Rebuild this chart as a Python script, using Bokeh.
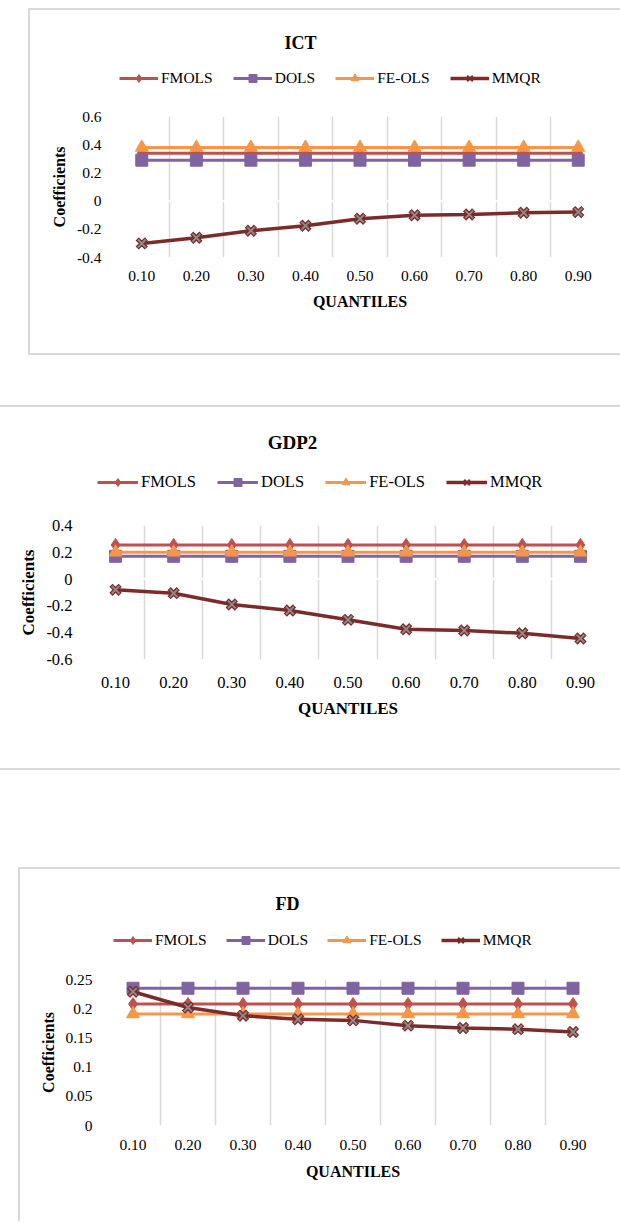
from bokeh.plotting import figure
from bokeh.layouts import column, row
from bokeh.models import (Legend, LegendItem, FixedTicker, NumeralTickFormatter,
                          Span, Range1d, Label, Spacer)
from bokeh.embed import file_html
from bokeh.resources import INLINE

# ---------------- data ----------------
quantiles = [0.10, 0.20, 0.30, 0.40, 0.50, 0.60, 0.70, 0.80, 0.90]
series_names = ["FMOLS", "DOLS", "FE-OLS", "MMQR"]

ict_fmols = [0.34, 0.34, 0.34, 0.34, 0.34, 0.34, 0.34, 0.34, 0.34]
ict_dols = [0.29, 0.29, 0.29, 0.29, 0.29, 0.29, 0.29, 0.29, 0.29]
ict_feols = [0.38, 0.38, 0.38, 0.38, 0.38, 0.38, 0.38, 0.38, 0.38]
ict_mmqr = [-0.30, -0.26, -0.21, -0.175, -0.125, -0.10, -0.095, -0.083, -0.078]
ict_yticks = [-0.4, -0.2, 0, 0.2, 0.4, 0.6]

gdp2_fmols = [0.255, 0.255, 0.255, 0.255, 0.255, 0.255, 0.255, 0.255, 0.255]
gdp2_dols = [0.17, 0.17, 0.17, 0.17, 0.17, 0.17, 0.17, 0.17, 0.17]
gdp2_feols = [0.20, 0.20, 0.20, 0.20, 0.20, 0.20, 0.20, 0.20, 0.20]
gdp2_mmqr = [-0.08, -0.105, -0.19, -0.234, -0.304, -0.374, -0.384, -0.404, -0.443]
gdp2_yticks = [-0.6, -0.4, -0.2, 0, 0.2, 0.4]

fd_fmols = [0.208, 0.208, 0.208, 0.208, 0.208, 0.208, 0.208, 0.208, 0.208]
fd_dols = [0.235, 0.235, 0.235, 0.235, 0.235, 0.235, 0.235, 0.235, 0.235]
fd_feols = [0.191, 0.191, 0.191, 0.191, 0.191, 0.191, 0.191, 0.191, 0.191]
fd_mmqr = [0.229, 0.202, 0.188, 0.182, 0.180, 0.171, 0.167, 0.165, 0.160]
fd_yticks = [0, 0.05, 0.1, 0.15, 0.2, 0.25]

COLORS = {"FMOLS": "#C0504D", "DOLS": "#8064A2", "FE-OLS": "#F79646", "MMQR": "#7B2C2A"}
MARKERS = {"FMOLS": ("diamond", 13), "DOLS": ("square", 12), "FE-OLS": ("triangle", 13)}
FONT = "Liberation Serif"
GRID = "#D9D9D9"
BL, BR = 80, 5  # common left / right borders of every figure


def draw_series(p, data, legend_only=False, **kw):
    """Draw the four series; return legend items."""
    items = []
    for name in series_names[:3]:
        col = COLORS[name]
        marker, size = MARKERS[name]
        l = p.line(quantiles, data[name], line_color=col, line_width=3, **kw)
        s = p.scatter(quantiles, data[name], marker=marker, size=size,
                      fill_color=col, line_color=col, **kw)
        items.append(LegendItem(label=name, renderers=[l, s]))
    col = COLORS["MMQR"]
    l = p.line(quantiles, data["MMQR"], line_color=col, line_width=3.5, **kw)
    if legend_only:
        s1 = p.scatter(quantiles, data["MMQR"], marker="x", size=12, line_color=col,
                       line_width=2, **kw)
    else:
        s1 = p.scatter(quantiles, data["MMQR"], marker="x", size=13, line_color=col,
                       line_width=4.5, **kw)
        p.scatter(quantiles, data["MMQR"], marker="x", size=11, line_color="#8E8E8E",
                  line_width=1.8, **kw)
    items.append(LegendItem(label="MMQR", renderers=[l, s1]))
    return items


def make_header(title, data, c):
    fw = c["w"] - BL - BR
    h = figure(width=c["w"], height=c["hh"], output_backend="svg", toolbar_location=None,
               x_axis_type=None, y_axis_type=None, title_location=None,
               x_range=Range1d(0, fw), y_range=Range1d(0, c["hh"]),
               min_border_left=BL, min_border_right=BR, min_border_top=0, min_border_bottom=0)
    h.outline_line_color = None
    h.background_fill_color = "white"
    h.border_fill_color = "white"
    h.grid.visible = False
    # renderers only used to draw the legend samples (kept out of view)
    h.extra_x_ranges = {"off": Range1d(100, 101)}
    items = draw_series(h, data, legend_only=True, x_range_name="off")
    legend = Legend(items=items, orientation="horizontal", location=c["lloc"],
                    padding=0, margin=0, spacing=c["lspace"],
                    glyph_width=c["gw"], glyph_height=20, label_height=20,
                    label_standoff=3, label_text_font=FONT,
                    label_text_font_size=c["fs"], label_text_color="black",
                    border_line_color=None, background_fill_alpha=0)
    h.add_layout(legend)
    h.add_layout(Label(x=c["tx"], y=c["ty"], text=title, text_font=FONT,
                       text_font_style="bold", text_font_size=c["tfs"],
                       text_color="black", text_align="center", text_baseline="middle"))
    return h


def make_chart(data, yticks, c):
    half = (quantiles[1] - quantiles[0]) / 2
    p = figure(width=c["w"], height=c["hc"], output_backend="svg", toolbar_location=None,
               title_location=None,
               x_range=Range1d(quantiles[0] - half, quantiles[-1] + half),
               y_range=Range1d(yticks[0], yticks[-1]),
               min_border_left=BL, min_border_right=BR,
               min_border_top=c["mt"], min_border_bottom=c["mb"])
    p.background_fill_color = "white"
    p.border_fill_color = "white"
    p.outline_line_color = None

    p.ygrid.grid_line_color = None
    p.xgrid.ticker = FixedTicker(ticks=[q - half for q in quantiles] + [quantiles[-1] + half])
    p.xgrid.grid_line_color = GRID
    p.xgrid.grid_line_width = 1.5
    if yticks[0] < 0:
        p.add_layout(Span(location=0, dimension="width", line_color="white",
                          line_width=2, level="underlay"))

    draw_series(p, data)

    p.xaxis.ticker = FixedTicker(ticks=quantiles)
    p.xaxis.formatter = NumeralTickFormatter(format="0.00")
    p.yaxis.ticker = FixedTicker(ticks=yticks)
    p.yaxis.formatter = NumeralTickFormatter(format="0.[00]")
    p.xaxis.axis_label = "QUANTILES"
    p.yaxis.axis_label = "Coefficients"
    for ax in (p.xaxis, p.yaxis):
        ax.axis_line_color = None
        ax.major_tick_line_color = None
        ax.minor_tick_line_color = None
        ax.major_tick_out = 0
        ax.major_tick_in = 0
        ax.major_label_text_font = FONT
        ax.major_label_text_font_size = c["fs"]
        ax.major_label_text_color = "black"
        ax.axis_label_text_font = FONT
        ax.axis_label_text_font_style = "bold"
        ax.axis_label_text_font_size = c["afs"]
        ax.axis_label_text_color = "black"
    p.xaxis.major_label_standoff = c["xts"]
    p.xaxis.axis_label_standoff = c["xls"]
    p.yaxis.major_label_standoff = c["yts"]
    p.yaxis.axis_label_standoff = c["yls"]
    return p


def line_box(w, h):
    return Spacer(width=w, height=h, styles={"background-color": GRID})


c1 = dict(w=576, hh=90, hc=253, mt=16, mb=96, tfs="18px", tx=186, ty=58,
          lloc=(5, 12), lspace=20, gw=39, fs="15.5px", afs="16px",
          xts=13, xls=9, yts=13, yls=6)
c2 = dict(w=608, hh=93, hc=268, mt=25, mb=109, tfs="19px", tx=206, ty=58,
          lloc=(11, 8), lspace=21, gw=41, fs="16.5px", afs="17px",
          xts=17, xls=8, yts=14, yls=5)
c3 = dict(w=580, hh=91, hc=261, mt=19, mb=96, tfs="18px", tx=182, ty=57,
          lloc=(8, 10), lspace=19, gw=39, fs="15.5px", afs="16px",
          xts=14, xls=10, yts=13, yls=5)

ict = {"FMOLS": ict_fmols, "DOLS": ict_dols, "FE-OLS": ict_feols, "MMQR": ict_mmqr}
gdp2 = {"FMOLS": gdp2_fmols, "DOLS": gdp2_dols, "FE-OLS": gdp2_feols, "MMQR": gdp2_mmqr}
fd = {"FMOLS": fd_fmols, "DOLS": fd_dols, "FE-OLS": fd_feols, "MMQR": fd_mmqr}

h1, p1 = make_header("ICT", ict, c1), make_chart(ict, ict_yticks, c1)
h2, p2 = make_header("GDP2", gdp2, c2), make_chart(gdp2, gdp2_yticks, c2)
h3, p3 = make_header("FD", fd, c3), make_chart(fd, fd_yticks, c3)

blk1 = column(
    Spacer(width=620, height=8),
    row(Spacer(width=28, height=347), line_box(2, 347),
        column(line_box(590, 2),
               row(Spacer(width=4, height=343), column(h1, p1)),
               line_box(590, 2))),
    Spacer(width=620, height=40))
blk2 = column(
    Spacer(width=620, height=10),
    line_box(620, 2),
    row(Spacer(width=6, height=361), column(h2, p2)),
    line_box(620, 2))
blk3 = column(
    Spacer(width=620, height=97),
    row(Spacer(width=18, height=354), line_box(2, 354),
        column(line_box(600, 2),
               row(Spacer(width=5, height=352), column(h3, p3)))))

layout = column(blk1, blk2, blk3)
open("out.html", "w").write(file_html(layout, INLINE))
